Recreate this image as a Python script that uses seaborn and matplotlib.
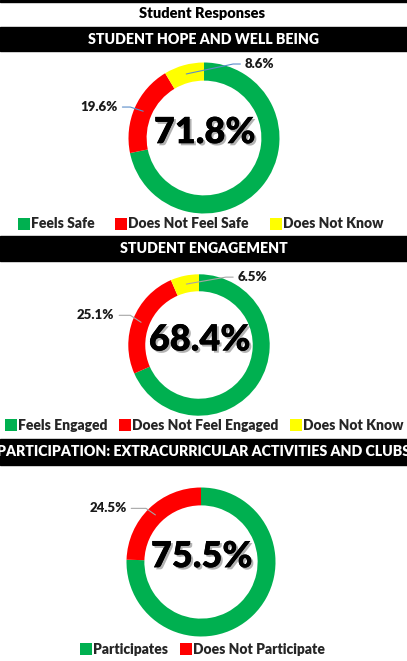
import matplotlib
matplotlib.use("Agg")
import matplotlib.pyplot as plt
import matplotlib.patheffects as pe
from matplotlib.patches import Rectangle
from matplotlib.lines import Line2D
import numpy as np
import seaborn as sns

# data
titles = ["STUDENT HOPE AND WELL BEING", "STUDENT ENGAGEMENT",
          "PARTICIPATION: EXTRACURRICULAR ACTIVITIES AND CLUBS"]
hope_labels = ["Feels Safe", "Does Not Feel Safe", "Does Not Know"]
hope_values = [71.8, 19.6, 8.6]
engage_labels = ["Feels Engaged", "Does Not Feel Engaged", "Does Not Know"]
engage_values = [68.4, 25.1, 6.5]
part_labels = ["Participates", "Does Not Participate"]
part_values = [75.5, 24.5]

colors = ["#00B050", "#FF0000", "#FFFF00"]

sns.set_theme(style="white")
plt.rcParams["font.family"] = ["Lato", "DejaVu Sans"]
plt.rcParams["font.weight"] = "bold"

W, H = 407, 661
fig = plt.figure(figsize=(W / 100, H / 100), dpi=100)
fig.patch.set_facecolor("white")


def fx(x):
    return x / W


def fy(y):
    return 1 - y / H


# top border line and title
fig.patches.append(Rectangle((0, fy(1.5)), 1, 1.5 / H, transform=fig.transFigure,
                             color="black", zorder=0))
fig.text(fx(202), fy(14), "Student Responses", ha="center", va="center",
         fontsize=10.5, fontweight="heavy", color="black")


def header(y0, y1, text):
    fig.patches.append(Rectangle((0, fy(y1)), 1, (y1 - y0) / H,
                                 transform=fig.transFigure, color="black", zorder=0))
    fig.text(0.5, fy((y0 + y1) / 2), text, ha="center", va="center",
             fontsize=10.2, fontweight="heavy", color="white")


def donut(cx, cy, R, values, callouts, lcolor):
    ax = fig.add_axes([fx(cx - R), fy(cy + R), 2 * R / W, 2 * R / H])
    ax.pie(values, colors=colors[:len(values)], startangle=90, counterclock=False,
           radius=1, wedgeprops=dict(width=0.24, linewidth=0))
    ax.set_xlim(-1, 1)
    ax.set_ylim(-1, 1)
    ax.set_aspect("equal")
    ax.axis("off")
    total = sum(values)
    cum = np.cumsum([0] + list(values))
    for i, (tx, ty, angB) in callouts.items():
        mid = (cum[i] + values[i] / 2) / total
        ang = np.deg2rad(90 - 360 * mid)
        px, py = 0.88 * np.cos(ang), 0.88 * np.sin(ang)
        ax.annotate(f"{values[i]}%", xy=(px, py), xytext=(tx, ty),
                    ha="center", va="center", fontsize=9.5, fontweight="heavy",
                    color="#1a1a1a", annotation_clip=False,
                    arrowprops=dict(arrowstyle="-", color=lcolor, lw=0.8,
                                    shrinkA=1, shrinkB=0,
                                    connectionstyle=f"angle,angleA=0,angleB={angB},rad=0"))
    ax.text(0.01, 0.07, f"{values[0]}%", ha="center", va="center", fontsize=26,
            fontweight="heavy", color="black",
            path_effects=[pe.withSimplePatchShadow(offset=(1.5, -1.5),
                                                   shadow_rgbFace="#555555", alpha=0.45),
                          pe.Normal()])
    return ax


def legend(labels, y, cx, spacing=0.9):
    handles = [Line2D([], [], marker="s", linestyle="none", markersize=8,
                      markerfacecolor=colors[i], markeredgewidth=0)
               for i in range(len(labels))]
    fig.legend(handles, labels, loc="center", bbox_to_anchor=(fx(cx), fy(y)),
               ncol=len(labels), frameon=False, handlelength=0.7, handletextpad=0.15,
               columnspacing=spacing, prop=dict(size=10, weight="heavy"), borderpad=0)


# panel 1
header(27, 51, titles[0])
donut(204, 138, 75.5, hope_values,
      {2: (0.74, 0.98, 12), 1: (-1.39, 0.41, -18)}, "#5B8DC9")
legend(hope_labels, 224, 201, spacing=1.6)

# panel 2
header(236, 261, titles[1])
donut(199, 345, 70.7, engage_values,
      {2: (0.76, 0.96, 10), 1: (-1.46, 0.42, -33)}, "#A6A6A6")
legend(engage_labels, 425, 205)

# panel 3
header(439, 465, titles[2])
donut(201, 562, 74.5, part_values,
      {1: (-1.25, 0.72, -35)}, "#A6A6A6")
legend(part_labels, 649, 203)

fig.savefig("out.png", dpi=100, facecolor="white")
